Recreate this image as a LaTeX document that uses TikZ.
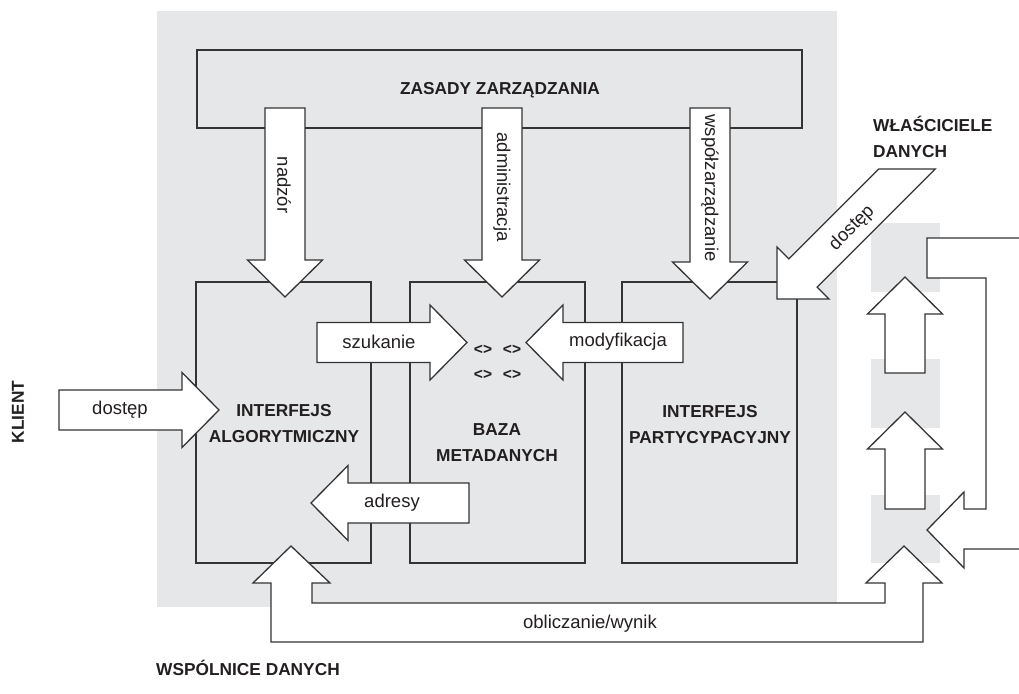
\documentclass[tikz,border=0pt]{standalone}
\usepackage{fontspec}
\setmainfont{Liberation Sans}
\usepackage{xcolor}
\definecolor{panelgray}{RGB}{230,231,232}
\definecolor{linegray}{RGB}{52,52,52}
\definecolor{inkblack}{RGB}{35,31,32}

% straight block arrow: tail point, direction angle, total length
\newcommand{\blockarrow}[3]{%
  \begin{scope}[shift={#1}, rotate=#2]
    \draw[arrowbody] (0,-20) -- ({#3-37},-20) -- ({#3-37},-37.5) -- (#3,0)
      -- ({#3-37},37.5) -- ({#3-37},20) -- (0,20) -- cycle;
  \end{scope}}

\begin{document}
\begin{tikzpicture}[x=1pt, y=-1pt,
		box/.style={draw=linegray, line width=1.3pt},
		arrowbody/.style={draw=linegray, fill=white, line width=1.3pt, line join=miter},
		arrowtext/.style={font=\fontsize{18.5}{22}\selectfont, text=inkblack, inner sep=0pt},
		heading/.style={font=\fontsize{17.3}{26.5}\selectfont\bfseries, text=inkblack, inner sep=0pt, align=center},
		marks/.style={font=\fontsize{15.5}{17}\selectfont\bfseries, text=inkblack, inner sep=0pt}
	]
	\useasboundingbox (0,0) rectangle (1019,693);
	% background panels
	\fill[panelgray] (157,11) rectangle (837,607);
	\fill[panelgray] (871,223) rectangle (940,292);
	\fill[panelgray] (871,359) rectangle (940,428);
	\fill[panelgray] (871,495) rectangle (940,563);
	% boxes
	\draw[box] (197,50) rectangle (802,128);
	\draw[box] (196,282) rectangle (371,563);
	\draw[box] (410,282) rectangle (585,563);
	\draw[box] (622,282) rectangle (797,563);
	% block arrows
	\blockarrow{(285,108)}{-90}{189}
	\blockarrow{(502,108)}{-90}{189}
	\blockarrow{(710,108)}{-90}{191}
	\blockarrow{(317,342.5)}{0}{150}
	\blockarrow{(683,342.5)}{180}{157}
	\blockarrow{(469,503)}{180}{158}
	\blockarrow{(59,410)}{0}{160}
	\blockarrow{(905,373)}{90}{96}
	\blockarrow{(905,509)}{90}{97}
	\draw[arrowbody] (878.8,169) -- (935.2,169) -- (817.1,287.1) -- (829,299) -- (777,299)
		-- (777,247) -- (788.9,258.9) -- cycle;
	\draw[arrowbody] (291,546) -- (330,583) -- (312,583) -- (312,603) -- (885,603) -- (885,583)
		-- (866,583) -- (904,546) -- (942,583) -- (923,583) -- (923,642) -- (271,642)
		-- (271,583) -- (253,583) -- cycle;
	\draw[arrowbody] (1019,238) -- (927,238) -- (927,278) -- (986,278) -- (986,509) -- (964,509)
		-- (964,492) -- (927,530) -- (964,568) -- (964,549) -- (1019,549);
	% labels
	\node[heading] (rules) at (500,90) {ZASADY ZARZĄDZANIA};
	\node[heading] (algo) at (284,423.5) {INTERFEJS\\ALGORYTMICZNY};
	\node[heading] (meta) at (497,442.5) {BAZA\\METADANYCH};
	\node[heading] (part) at (710,424.5) {INTERFEJS\\PARTYCYPACYJNY};
	\node[heading, rotate=90] (client) at (18,412) {KLIENT};
	\node[heading, anchor=west, align=left] (owners) at (873,137) {WŁAŚCICIELE\\DANYCH};
	\node[heading, anchor=west] (partners) at (156,668) {WSPÓLNICE DANYCH};
	\node[arrowtext, rotate=-90] (supervise) at (284,185) {nadzór};
	\node[arrowtext, rotate=-90] (admin) at (502,187) {administracja};
	\node[arrowtext, rotate=-90] (comanage) at (710,188) {współzarządzanie};
	\node[arrowtext] (search) at (379,342) {szukanie};
	\node[arrowtext] (modify) at (618,342) {modyfikacja};
	\node[arrowtext] (address) at (392,503) {adresy};
	\node[arrowtext] (access) at (120,410) {dostęp};
	\node[arrowtext, rotate=45] (ownaccess) at (852,228) {dostęp};
	\node[arrowtext] (compute) at (590,624) {obliczanie/wynik};
	\foreach \mx in {483,512}
		\foreach \my in {350,375}
			\node[marks] at (\mx,\my) {<>};
\end{tikzpicture}
\end{document}
